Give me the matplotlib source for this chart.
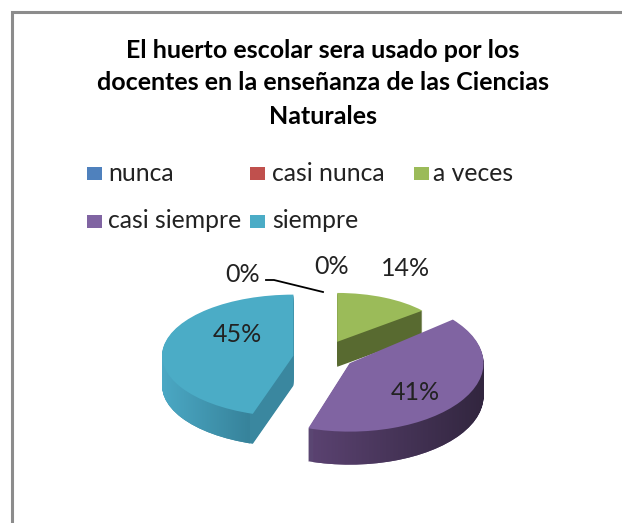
import matplotlib
matplotlib.use("Agg")
import matplotlib.pyplot as plt
import numpy as np
from matplotlib.patches import Rectangle
from matplotlib.path import Path
from matplotlib.transforms import Affine2D, TransformedPath

categories = ["nunca", "casi nunca", "a veces", "casi siempre", "siempre"]
values = [0, 0, 14, 41, 45]
title = "El huerto escolar sera usado por los\ndocentes en la enseñanza de las Ciencias\nNaturales"

top_colors = ["#4F81BD", "#C0504D", "#9BBB59", "#8064A2", "#4BACC6"]
wall_colors = ["#3A5F8C", "#8E3B39", "#586A30", "#5A4672", "#3A879F"]

W, H = 622, 523
plt.rcParams["font.family"] = ["Lato", "DejaVu Sans"]
fig = plt.figure(figsize=(W / 100, H / 100), dpi=100, facecolor="white")
ax = fig.add_axes([0, 0, 1, 1])

# pixel helpers, y is squashed to fake the 3d tilt
squash = 0.47
def to_y(py):
    return (H - py) / squash

cx, cy, radius = 324, 355, 130
explode = [31] * len(values)
pie_args = dict(explode=explode, startangle=90, counterclock=False, radius=radius, frame=True)

# per slice stretch, shift down in px and wall depth, nearer slices look bigger
stretch = {2: (0.85, 0.80), 3: (1.03, 1.12), 4: (1.01, 1.0)}
shift = {4: 3}
depths = {0: 0, 1: 0, 2: 25, 3: 33, 4: 30}

def slice_tf(w, i):
    sx, sy = stretch.get(i, (1, 1))
    x0, y0 = w.center
    return Affine2D().translate(-x0, -y0).scale(sx, sy).translate(x0, y0 - shift.get(i, 0) / squash)

# side walls: one pie per pixel of depth
wall_paths = {2: [], 3: [], 4: []}
for d in range(max(depths.values()), 0, -1):
    wedges, _ = ax.pie(values, colors=wall_colors, center=(cx, to_y(cy + d)), **pie_args)
    for i, w in enumerate(wedges):
        w.set_zorder(1)
        w.set_linewidth(0)
        if d > depths[i]:
            w.set_visible(False)
            continue
        tf = slice_tf(w, i)
        w.set_transform(tf + ax.transData)
        if i in wall_paths:
            wall_paths[i].append(w.get_path().transformed(w.get_patch_transform() + tf))

wedges, _ = ax.pie(values, colors=top_colors, center=(cx, to_y(cy)), **pie_args)
for i, w in enumerate(wedges):
    w.set_zorder(3)
    w.set_linewidth(0)
    w.set_transform(slice_tf(w, i) + ax.transData)

ax.set_aspect("auto")
ax.axis("off")

# shading across the curved walls
shades = {3: (313, 484, "#5A4270", "#32263F"), 4: (162, 250, "#4BA8C4", "#37839B")}
for i, (x0, x1, c0, c1) in shades.items():
    rgb0, rgb1 = matplotlib.colors.to_rgb(c0), matplotlib.colors.to_rgb(c1)
    t = np.linspace(0, 1, 64)[None, :, None]
    grad = np.array(rgb0)[None, None, :] * (1 - t) + np.array(rgb1)[None, None, :] * t
    im = ax.imshow(grad, extent=(x0, x1, 0, H / squash), aspect="auto", zorder=2)
    im.set_clip_path(TransformedPath(Path.make_compound_path(*wall_paths[i]), ax.transData))
ax.set_xlim(0, W)
ax.set_ylim(0, H / squash)

def fx(px):
    return px / W
def fy(py):
    return 1 - py / H

# chart frame, cut by the image edge at right and bottom
fig.add_artist(Rectangle((fx(11.5), fy(H + 10)), 1, fy(11.5) - fy(H + 10), transform=fig.transFigure,
                         fill=False, edgecolor="#8C8C8C", linewidth=2.2))

for line, py in zip(title.split("\n"), [51, 83, 116]):
    fig.text(fx(323), fy(py), line, ha="center", va="center", fontsize=18, fontweight="bold", color="black")

legend_x = [87, 250, 414, 87, 250]
legend_y = [173.5, 173.5, 173.5, 221, 221]
text_x = [108, 272, 433, 108, 272]
for name, c, lx, tx, ly in zip(categories, top_colors, legend_x, text_x, legend_y):
    fig.add_artist(Rectangle((fx(lx), fy(ly + 6.5)), 14.5 / W, 13 / H, transform=fig.transFigure,
                             facecolor=c, edgecolor="none"))
    fig.text(fx(tx), fy(ly), name, ha="left", va="center", fontsize=17.8, color="#222222")

label_x = [243, 332, 406, 415, 237]
label_y = [274, 267, 269, 393, 335]
for v, lx, ly in zip(values, label_x, label_y):
    fig.text(fx(lx), fy(ly), f"{v}%", ha="center", va="center", fontsize=18, color="#222222", zorder=5)

# leader line of the first 0%
fig.add_artist(plt.Line2D([fx(266), fx(274), fx(323)], [fy(280), fy(280), fy(292)],
                          transform=fig.transFigure, color="black", linewidth=1.3))

fig.savefig("out.png", dpi=100)
